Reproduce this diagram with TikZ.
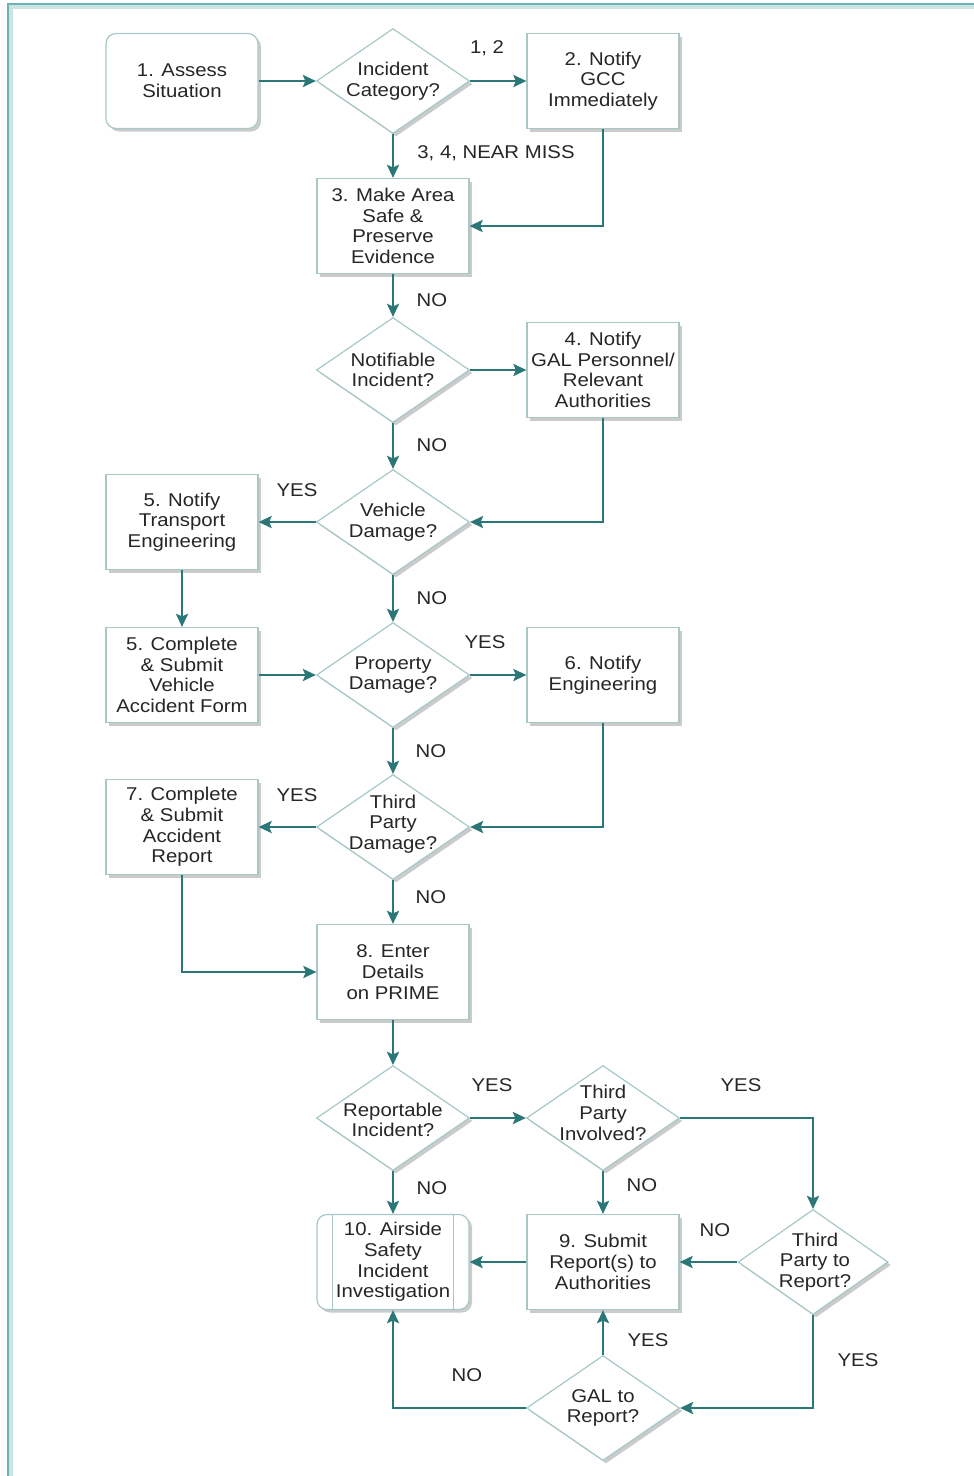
\documentclass[tikz,border=0pt]{standalone}
\usepackage{fontspec}
\setmainfont{Liberation Sans}[FakeStretch=1.1]
\usetikzlibrary{shapes.geometric,arrows.meta,shadows,calc}

\definecolor{flow}{HTML}{2B7676}
\definecolor{edgecol}{HTML}{A8C8C8}
\definecolor{ink}{HTML}{262626}
\definecolor{framecol}{HTML}{6AB3B3}

\tikzset{
  txt/.style={align=center, text=ink, font=\fontsize{18.5}{20.7}\selectfont},
  shade box/.style={drop shadow={shadow xshift=3pt, shadow yshift=-3pt, fill=black!45, opacity=0.45}},
  box/.style={txt, draw=edgecol, line width=1.2pt, fill=white, shade box,
    minimum width=152pt, minimum height=95pt, inner sep=0pt},
  rbox/.style={box, rounded corners=10pt},
  dia/.style={diamond, draw=edgecol, line width=1.2pt, fill=white, shade box,
    minimum width=153pt, minimum height=105pt, inner sep=0pt},
  flowline/.style={draw=flow, line width=2.6pt, -{Stealth[length=13pt,width=12pt,inset=2.5pt]}},
  lbl/.style={txt, inner sep=0pt},
}

\begin{document}
\begin{tikzpicture}[x=1pt,y=-1pt]
  % page and frame
  \fill[white] (0,0) rectangle (974,1476);
  \useasboundingbox (0,0) rectangle (974,1476);
  \draw[framecol!35, line width=4pt] (11,1476) -- (11,7) -- (974,7);
  \draw[framecol, line width=1.6pt] (8,1476) -- (8,4) -- (974,4);

  % row 1
  \node[rbox] (assess) at (182,81) {1. Assess\\Situation};
  \node[dia] (cat) at (393,81) {};
  \node[txt] (catT) at (cat) {Incident\\Category?};
  \node[box] (gcc) at (603,81) {2. Notify\\GCC\\Immediately};

  % row 2
  \node[box] (safe) at (393,226) {3. Make Area\\Safe \&\\Preserve\\Evidence};

  % row 3
  \node[dia] (notif) at (393,370) {};
  \node[txt] (notifT) at (notif) {Notifiable\\Incident?};
  \node[box] (gal) at (603,370) {4. Notify\\GAL Personnel/\\Relevant\\Authorities};

  % row 4
  \node[box] (trans) at (182,522) {5. Notify\\Transport\\Engineering};
  \node[dia] (veh) at (393,522) {};
  \node[txt] (vehT) at (veh) {Vehicle\\Damage?};

  % row 5
  \node[box] (vaf) at (182,675) {5. Complete\\\& Submit\\Vehicle\\Accident Form};
  \node[dia] (prop) at (393,675) {};
  \node[txt] (propT) at (prop) {Property\\Damage?};
  \node[box] (eng) at (603,675) {6. Notify\\Engineering};

  % row 6
  \node[box] (acc) at (182,827) {7. Complete\\\& Submit\\Accident\\Report};
  \node[dia] (tpd) at (393,827) {};
  \node[txt] (tpdT) at ($(tpd)+(0,-3)$) {Third\\Party\\Damage?};

  % row 7
  \node[box] (prime) at (393,972) {8. Enter\\Details\\on PRIME};

  % row 8
  \node[dia] (rep) at (393,1118) {};
  \node[txt] (repT) at ($(rep)+(0,2)$) {Reportable\\Incident?};
  \node[dia] (tpi) at (603,1118) {};
  \node[txt] (tpiT) at ($(tpi)+(0,-5)$) {Third\\Party\\Involved?};

  % row 9
  \node[rbox] (air) at (393,1262) {10. Airside\\Safety\\Incident\\Investigation};
  \draw[edgecol, line width=1.2pt] ($(air.north west)+(16,0)$) -- ($(air.south west)+(16,0)$);
  \draw[edgecol, line width=1.2pt] ($(air.north east)+(-16,0)$) -- ($(air.south east)+(-16,0)$);
  \node[box] (sub) at (603,1262) {9. Submit\\Report(s) to\\Authorities};
  \node[dia, minimum width=150pt] (tpr) at (813,1262) {};
  \node[txt] (tprT) at ($(tpr)+(2,0)$) {Third\\Party to\\Report?};

  % row 10
  \node[dia] (galr) at (603,1408) {};
  \node[txt] (galrT) at (galr) {GAL to\\Report?};

  % connectors
  \draw[flowline] (assess) -- (cat);
  \draw[flowline] (cat) -- (gcc);
  \draw[flowline] (cat) -- (safe);
  \draw[flowline] (gcc.south) |- (safe.east);
  \draw[flowline] (safe) -- (notif);
  \draw[flowline] (notif) -- (gal);
  \draw[flowline] (notif) -- (veh);
  \draw[flowline] (gal.south) |- (veh.east);
  \draw[flowline] (veh) -- (trans);
  \draw[flowline] (veh) -- (prop);
  \draw[flowline] (trans) -- (vaf);
  \draw[flowline] (vaf) -- (prop);
  \draw[flowline] (prop) -- (eng);
  \draw[flowline] (prop) -- (tpd);
  \draw[flowline] (eng.south) |- (tpd.east);
  \draw[flowline] (tpd) -- (acc);
  \draw[flowline] (tpd) -- (prime);
  \draw[flowline] (acc.south) |- (prime.west);
  \draw[flowline] (prime) -- (rep);
  \draw[flowline] (rep) -- (tpi);
  \draw[flowline] (rep) -- (air);
  \draw[flowline] (tpi) -- (sub);
  \draw[flowline] (tpi.east) -| (tpr.north);
  \draw[flowline] (tpr) -- (sub);
  \draw[flowline] (tpr.south) |- (galr.east);
  \draw[flowline] (galr) -- (sub);
  \draw[flowline] (galr.west) -| (air.south);
  \draw[flowline] (sub) -- (air);

  % connector labels
  \node[lbl] (l12) at (487,48) {1, 2};
  \node[lbl] (l34) at (496,153) {3, 4, NEAR MISS};
  \node[lbl] (n1) at (432,300) {NO};
  \node[lbl] (n2) at (432,445) {NO};
  \node[lbl] (y1) at (297,490) {YES};
  \node[lbl] (n3) at (432,598) {NO};
  \node[lbl] (y2) at (485,642) {YES};
  \node[lbl] (n4) at (431,751) {NO};
  \node[lbl] (y3) at (297,795) {YES};
  \node[lbl] (n5) at (431,897) {NO};
  \node[lbl] (y4) at (492,1085) {YES};
  \node[lbl] (y5) at (741,1085) {YES};
  \node[lbl] (n6) at (432,1188) {NO};
  \node[lbl] (n7) at (642,1185) {NO};
  \node[lbl] (n8) at (715,1230) {NO};
  \node[lbl] (y6) at (648,1340) {YES};
  \node[lbl] (y7) at (858,1360) {YES};
  \node[lbl] (n9) at (467,1375) {NO};
\end{tikzpicture}
\end{document}
